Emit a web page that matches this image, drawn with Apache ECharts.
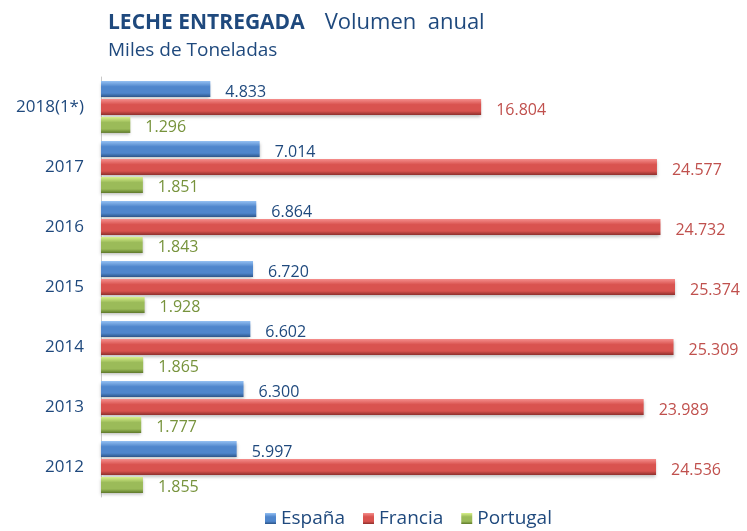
<!DOCTYPE html>
<html>
<head>
<meta charset="utf-8">
<script src="https://cdn.jsdelivr.net/npm/echarts@6/dist/echarts.min.js"></script>
<style>
  html, body { margin: 0; padding: 0; background: #fff; }
  #main { width: 747px; height: 531px; }
</style>
</head>
<body>
<div id="main"></div>
<script>
// años (de arriba a abajo)
var years = ['2018(1*)', '2017', '2016', '2015', '2014', '2013', '2012'];
// miles de toneladas
var espana = [4833, 7014, 6864, 6720, 6602, 6300, 5997];
var francia = [16804, 24577, 24732, 25374, 25309, 23989, 24536];
var portugal = [1296, 1851, 1843, 1928, 1865, 1777, 1855];

// formato con punto de miles
function fmt(v) {
  return String(v).replace(/\B(?=(\d{3})+(?!\d))/g, '.');
}

// degradado tipo cilindro
function grad(light, base, dark) {
  return new echarts.graphic.LinearGradient(0, 0, 0, 1, [
    { offset: 0, color: light },
    { offset: 0.35, color: base },
    { offset: 0.75, color: base },
    { offset: 1, color: dark }
  ]);
}

function serie(name, data, colors, labelColor) {
  return {
    name: name,
    type: 'bar',
    data: data,
    barWidth: 16,
    barGap: '12%',
    itemStyle: {
      color: grad(colors[0], colors[1], colors[2]),
      shadowColor: 'rgba(0,0,0,0.25)',
      shadowBlur: 3,
      shadowOffsetY: 2
    },
    label: {
      show: true,
      position: 'right',
      distance: 15,
      offset: [0, 3],
      fontFamily: 'Open Sans',
      fontSize: 16,
      color: labelColor,
      formatter: function (p) { return fmt(p.value); }
    }
  };
}

var myChart = echarts.init(document.getElementById('main'));
myChart.setOption({
  animation: false,
  color: ['#4F81BD', '#C0504D', '#9BBB59'],
  title: {
    left: 103,
    top: 7,
    text: '{b|LECHE ENTREGADA}    {n|Volumen  anual}',
    subtext: 'Miles de Toneladas',
    itemGap: 7,
    textStyle: {
      rich: {
        b: { fontFamily: 'Open Sans', fontSize: 21, fontWeight: 'bold', color: '#1F497D' },
        n: { fontFamily: 'Open Sans', fontSize: 22, fontWeight: 'normal', color: '#1F497D' }
      }
    },
    subtextStyle: { fontFamily: 'Open Sans', fontSize: 19, color: '#1F497D' }
  },
  legend: {
    left: 260,
    bottom: -2,
    itemWidth: 11,
    itemHeight: 11,
    itemGap: 18,
    icon: 'rect',
    textStyle: { fontFamily: 'Open Sans', fontSize: 19, color: '#1F497D' },
    data: ['España', 'Francia', 'Portugal']
  },
  grid: { left: 101, right: 12.6, top: 77, bottom: 34 },
  xAxis: {
    type: 'value',
    min: 0,
    max: 28000,
    show: false
  },
  yAxis: {
    type: 'category',
    inverse: true,
    data: years,
    axisLine: { show: true, lineStyle: { color: '#c8c8c8' } },
    axisTick: { show: false },
    axisLabel: { margin: 17, fontFamily: 'Open Sans', fontSize: 17, color: '#1F497D' }
  },
  series: [
    serie('España', espana, ['#93bff2', '#4F86CC', '#2c5488'], '#1F497D'),
    serie('Francia', francia, ['#f58e8c', '#D9534F', '#8e2f2c'], '#C0504D'),
    serie('Portugal', portugal, ['#d8f08a', '#9BBB59', '#5f7a2a'], '#77933C')
  ]
});
</script>
</body>
</html>
